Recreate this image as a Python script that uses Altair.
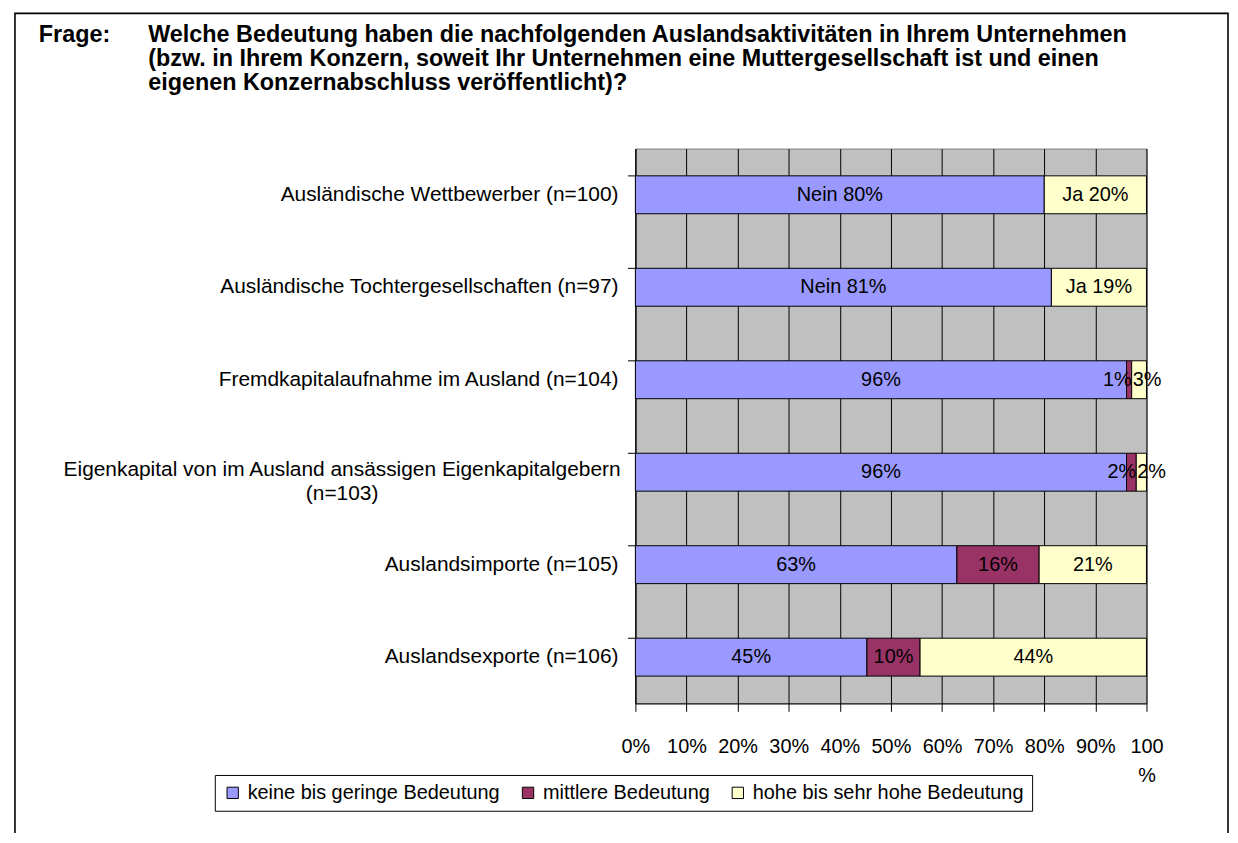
import altair as alt
import pandas as pd

# ---------------- data ----------------
categories = [
    "Ausländische Wettbewerber (n=100)",
    "Ausländische Tochtergesellschaften (n=97)",
    "Fremdkapitalaufnahme im Ausland (n=104)",
    "Eigenkapital von im Ausland ansässigen Eigenkapitalgebern (n=103)",
    "Auslandsimporte (n=105)",
    "Auslandsexporte (n=106)",
]
label_lines = [
    ["Ausländische Wettbewerber (n=100)"],
    ["Ausländische Tochtergesellschaften (n=97)"],
    ["Fremdkapitalaufnahme im Ausland (n=104)"],
    ["Eigenkapital von im Ausland ansässigen Eigenkapitalgebern", "(n=103)"],
    ["Auslandsimporte (n=105)"],
    ["Auslandsexporte (n=106)"],
]
levels = ["keine bis geringe Bedeutung", "mittlere Bedeutung", "hohe bis sehr hohe Bedeutung"]
colors = ["#9999FF", "#993366", "#FFFFCC"]

keine = [80.0, 81.4, 96.1, 96.1, 62.9, 45.3]
mittlere = [0.0, 0.0, 1.0, 1.9, 16.1, 10.4]
hohe = [20.0, 18.6, 2.9, 2.0, 21.0, 44.3]

prefix_keine = ["Nein ", "Nein ", "", "", "", ""]
prefix_hohe = ["Ja ", "Ja ", "", "", "", ""]

x_ticks = [0, 10, 20, 30, 40, 50, 60, 70, 80, 90, 100]

title_label = "Frage:"
title_lines = [
    "Welche Bedeutung haben die nachfolgenden Auslandsaktivitäten in Ihrem Unternehmen",
    "(bzw. in Ihrem Konzern, soweit Ihr Unternehmen eine Muttergesellschaft ist und einen",
    "eigenen Konzernabschluss veröffentlicht)?",
]

# ---------------- table ----------------
rows = []
for i, cat in enumerate(categories):
    for j, (lvl, vals) in enumerate(zip(levels, [keine, mittlere, hohe])):
        v = vals[i]
        if v <= 0:
            continue
        pre = prefix_keine[i] if j == 0 else (prefix_hohe[i] if j == 2 else "")
        rows.append({
            "category": cat,
            "level": lvl,
            "order": j,
            "value": v,
            "label": f"{pre}{round(v)}%",
        })
df = pd.DataFrame(rows)

cat_df = pd.DataFrame({
    "category": categories,
    "single": [l[0] if len(l) == 1 else "" for l in label_lines],
    "multi": [l if len(l) > 1 else [""] for l in label_lines],
    "nlines": [len(l) for l in label_lines],
})

FONT = "Liberation Sans"

y_scale = alt.Scale(domain=categories, paddingInner=0.59, paddingOuter=0.295)
x_scale = alt.Scale(domain=[0, 100], nice=False)

bars = alt.Chart(df).mark_bar(stroke="black", strokeWidth=1).encode(
    y=alt.Y("category:N", sort=categories, scale=y_scale, title=None,
            axis=alt.Axis(labels=False, bandPosition=0, tickSize=8, tickColor="black",
                          domainColor="black", grid=False, ticks=True)),
    x=alt.X("value:Q", stack="zero", scale=x_scale, title=None,
            axis=alt.Axis(values=x_ticks, tickSize=8, tickColor="black", domainColor="black",
                          grid=True, gridColor="black", gridWidth=1, gridOpacity=1,
                          labelFontSize=20, labelFont=FONT, labelColor="black",
                          labelPadding=25, labelLineHeight=30, labelOverlap=False,
                          labelFlush=False, labelAlign="center",
                          labelExpr="datum.value == 100 ? ['100', '%'] : datum.value + '%'")),
    color=alt.Color("level:N", scale=alt.Scale(domain=levels, range=colors), title=None,
                    legend=alt.Legend(orient="none", legendX=-423, legendY=630,
                                      direction="horizontal", strokeColor="black",
                                      fillColor="white", padding=8, symbolType="square",
                                      symbolSize=130, symbolStrokeColor="black",
                                      symbolStrokeWidth=1, labelFontSize=20, labelFont=FONT,
                                      labelColor="black", labelLimit=500, columnPadding=18,
                                      labelOffset=5)),
    order=alt.Order("order:Q"),
)

stacked = alt.Chart(df).transform_stack(
    stack="value", as_=["x0", "x1"], groupby=["category"], sort=[alt.SortField("order")]
).transform_calculate(
    mid="(datum.x0 + datum.x1) / 2"
)

seg_text = stacked.transform_filter("datum.value >= 5").mark_text(
    fontSize=20, font=FONT, color="black", baseline="middle", align="center"
).encode(
    x=alt.X("mid:Q", scale=x_scale),
    y=alt.Y("category:N", sort=categories, scale=y_scale),
    text="label:N",
)

small_mid = stacked.transform_filter("datum.value < 5 && datum.order == 1").mark_text(
    fontSize=20, font=FONT, color="black", baseline="middle", align="right"
).encode(
    x=alt.X("x1:Q", scale=x_scale),
    y=alt.Y("category:N", sort=categories, scale=y_scale),
    text="label:N",
)

small_high = stacked.transform_filter("datum.value < 5 && datum.order == 2").mark_text(
    fontSize=20, font=FONT, color="black", baseline="middle", align="left", dx=1
).encode(
    x=alt.X("x0:Q", scale=x_scale),
    y=alt.Y("category:N", sort=categories, scale=y_scale),
    text="label:N",
)

cat_single = alt.Chart(cat_df).transform_filter("datum.nlines == 1").mark_text(
    fontSize=21, font=FONT, color="black", align="right", baseline="middle"
).encode(
    x=alt.value(-17),
    y=alt.Y("category:N", sort=categories, scale=y_scale),
    text="single:N",
)

cat_multi = alt.Chart(cat_df).transform_filter("datum.nlines > 1").mark_text(
    fontSize=21, font=FONT, color="black", align="center", baseline="middle",
    lineHeight=24, dy=-2
).encode(
    x=alt.value(-295),
    y=alt.Y("category:N", sort=categories, scale=y_scale),
    text="multi",
)

one = pd.DataFrame({"k": [0]})

frame = alt.Chart(one).mark_rect(fill="transparent", stroke="black", strokeWidth=1.6).encode(
    x=alt.value(-624), x2=alt.value(596), y=alt.value(-136), y2=alt.value(720)
)

title_a = alt.Chart(one).mark_text(
    text=title_label, fontSize=23.5, font=FONT, fontWeight="bold", color="black",
    align="left", baseline="top"
).encode(x=alt.value(-600), y=alt.value(-126))

title_b = alt.Chart(one).mark_text(
    text=title_lines, fontSize=23.5, font=FONT, fontWeight="bold", color="black",
    align="left", baseline="top", lineHeight=24
).encode(x=alt.value(-490), y=alt.value(-126))

chart = alt.layer(
    bars, seg_text, small_mid, small_high, cat_single, cat_multi, frame, title_a, title_b
).properties(
    width=514, height=558,
    autosize=alt.AutoSizeParams(type="none"),
    padding={"left": 631, "top": 139, "right": 84, "bottom": 128},
    background="white",
).configure(font=FONT).configure_view(fill="#C0C0C0", stroke="#808080", strokeWidth=1)

chart.save("out.html", embed_options={"renderer": "svg", "actions": False})
